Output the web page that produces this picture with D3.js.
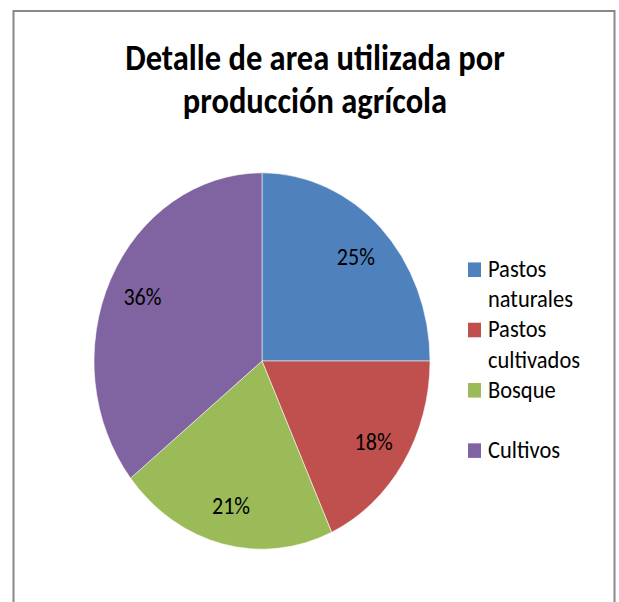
<!DOCTYPE html>
<html>
<head>
<meta charset="utf-8">
<script src="https://cdn.jsdelivr.net/npm/d3@7"></script>
<style>
  body { margin: 0; background: #fff; }
  text { font-family: Carlito, Calibri, Lato, "Noto Sans", sans-serif; fill: #000; }
</style>
</head>
<body>
<div class="pie-chart"></div>
<script>
const categories = ["Pastos naturales", "Pastos cultivados", "Bosque", "Cultivos"];
const legendLines = [["Pastos", "naturales"], ["Pastos", "cultivados"], ["Bosque"], ["Cultivos"]];
const shares = [25, 18.2, 21.1, 35.7];
const colors = ["#4F81BD", "#C0504D", "#9BBB59", "#8064A2"];
const titleLines = ["Detalle de area utilizada por", "producción agrícola"];

const width = 619, height = 602;
const sy = 1.12; // the picture is stretched vertically
const cx = 262, cy = 361 / sy, radius = 168;

const svg = d3.select(".pie-chart")
  .append("svg")
  .attr("width", width)
  .attr("height", height);

// chart frame
svg.append("rect")
  .attr("x", 13.5).attr("y", 11)
  .attr("width", 601).attr("height", 620)
  .attr("fill", "none")
  .attr("stroke", "#888")
  .attr("stroke-width", 2);

const g = svg.append("g").attr("transform", `scale(1,${sy})`);

g.selectAll(".title")
  .data(titleLines)
  .enter()
  .append("text")
  .attr("class", "title")
  .attr("x", 315)
  .attr("y", (d, i) => (70 + i * 43) / sy)
  .attr("text-anchor", "middle")
  .style("font-size", "32.5px")
  .style("font-weight", "bold")
  .text(d => d);

const pie = d3.pie().sort(null).value(d => d);
const arcs = pie(shares);
const arc = d3.arc().innerRadius(0).outerRadius(radius);
const labelArc = d3.arc().innerRadius(radius * 0.79).outerRadius(radius * 0.79);

const pieG = g.append("g").attr("transform", `translate(${cx},${cy})`);

pieG.selectAll("path")
  .data(arcs)
  .enter()
  .append("path")
  .attr("d", arc)
  .attr("fill", (d, i) => colors[i])
  .attr("stroke", "#fff")
  .attr("stroke-width", 0.5);

pieG.selectAll(".pct")
  .data(arcs)
  .enter()
  .append("text")
  .attr("class", "pct")
  .attr("transform", d => `translate(${labelArc.centroid(d)})`)
  .attr("text-anchor", "middle")
  .attr("dy", "0.35em")
  .style("font-size", "22px")
  .text(d => Math.round(d.data) + "%");

// legend
const legend = g.append("g").attr("class", "legend");
const items = legend.selectAll("g")
  .data(categories)
  .enter()
  .append("g")
  .attr("transform", (d, i) => `translate(468,${(277 + i * 60.3) / sy})`);

items.append("rect")
  .attr("x", 0)
  .attr("y", -13)
  .attr("width", 13)
  .attr("height", 13)
  .attr("fill", (d, i) => colors[i]);

items.append("text")
  .attr("x", 20)
  .attr("y", 0)
  .style("font-size", "22.5px")
  .selectAll("tspan")
  .data((d, i) => legendLines[i])
  .enter()
  .append("tspan")
  .attr("x", 20)
  .attr("dy", (d, j) => j === 0 ? 0 : 30.5 / sy)
  .text(d => d);
</script>
</body>
</html>
